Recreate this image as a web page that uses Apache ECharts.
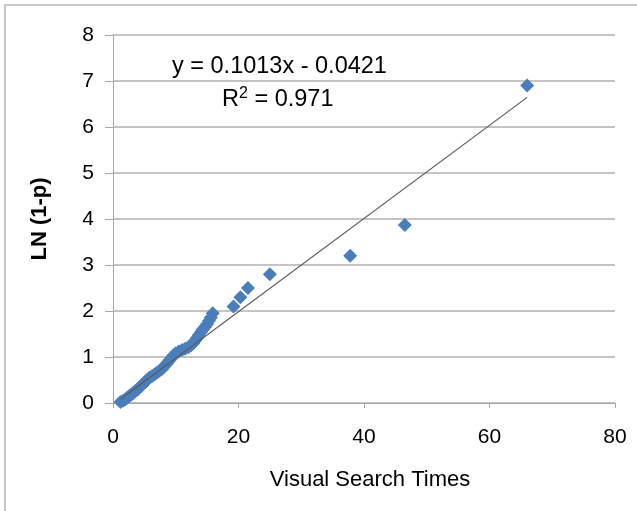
<!DOCTYPE html>
<html>
<head>
<meta charset="utf-8">
<script src="https://cdn.jsdelivr.net/npm/echarts@6/dist/echarts.min.js"></script>
<style>
  html, body { margin: 0; padding: 0; background: #fff; }
  #chart { width: 637px; height: 511px; }
</style>
</head>
<body>
<div id="chart"></div>
<script>
// visual search times (x) and LN(1-p) (y)
var searchTimes = [1.2, 1.6, 2.0, 2.3, 2.6, 2.9, 3.2, 3.5, 3.8, 4.0, 4.3, 4.6, 4.9, 5.2, 5.5, 5.8,
  6.2, 6.6, 7.0, 7.4, 7.8, 8.1, 8.4, 8.7, 9.0, 9.3, 9.6, 10.0, 10.5, 11.0, 11.5, 12.0, 12.4, 12.8,
  13.1, 13.4, 13.7, 14.0, 14.3, 14.7, 15.0, 15.3, 15.6, 15.9, 19.2, 20.3, 21.5, 25.0, 37.8, 46.5, 66.0];
var lnValues = [0.02, 0.05, 0.08, 0.12, 0.15, 0.18, 0.22, 0.25, 0.28, 0.31, 0.35, 0.39, 0.43, 0.47, 0.51, 0.55,
  0.58, 0.62, 0.66, 0.70, 0.74, 0.78, 0.83, 0.88, 0.93, 0.98, 1.03, 1.08, 1.12, 1.15, 1.18, 1.21, 1.25, 1.30,
  1.36, 1.42, 1.48, 1.54, 1.60, 1.66, 1.72, 1.79, 1.86, 1.95, 2.10, 2.30, 2.50, 2.80, 3.20, 3.87, 6.90];

// linear trendline as printed on the chart
var trendSlope = 0.1013;
var trendIntercept = -0.0421;
var trendRange = [1.2, 66];
var rSquared = 0.971;

var points = searchTimes.map(function (x, i) { return [x, lnValues[i]]; });
var trendPoints = trendRange.map(function (x) { return [x, trendSlope * x + trendIntercept]; });

var font = 'Liberation Sans, Arial, sans-serif';
var chart = echarts.init(document.getElementById('chart'));

chart.setOption({
  animation: false,
  backgroundColor: '#fff',
  textStyle: { fontFamily: font },
  grid: { left: 113, right: 22, top: 35, bottom: 108, containLabel: false },
  xAxis: {
    type: 'value', min: 0, max: 80, interval: 20,
    name: 'Visual Search Times', nameLocation: 'middle', nameGap: 66,
    nameTextStyle: { fontSize: 22, color: '#000', fontFamily: font, padding: [0, 0, 0, 12] },
    axisLine: { lineStyle: { color: '#a6a6a6', width: 1 } },
    axisTick: { show: true, length: 5, lineStyle: { color: '#a6a6a6' } },
    axisLabel: { fontSize: 21, color: '#000', margin: 24, fontFamily: font },
    splitLine: { show: false }
  },
  yAxis: {
    type: 'value', min: 0, max: 8, interval: 1,
    name: 'LN (1-p)', nameLocation: 'middle', nameGap: 62,
    nameTextStyle: { fontSize: 22, fontWeight: 'bold', color: '#000', fontFamily: font },
    axisLine: { show: true, lineStyle: { color: '#a6a6a6', width: 1 } },
    axisTick: { show: true, length: 8, lineStyle: { color: '#a6a6a6' } },
    axisLabel: { fontSize: 21, color: '#000', margin: 19, fontFamily: font },
    splitLine: { show: true, lineStyle: { color: '#c4c4c4', width: 2 } }
  },
  graphic: [
    {
      type: 'rect', silent: true, z: -1,
      shape: { x: 5, y: 5, width: 700, height: 600 },
      style: { fill: 'none', stroke: '#c8c8c8', lineWidth: 2 }
    },
    {
      type: 'text', left: 172, top: 55,
      style: { text: 'y = 0.1013x - 0.0421', fontSize: 23.5, fill: '#000', fontFamily: font }
    },
    {
      type: 'text', left: 222, top: 86,
      style: {
        text: '{b|R}{s|2}{b| = ' + rSquared + '}',
        fill: '#000', fontFamily: font,
        rich: {
          b: { fontSize: 23.5, fontFamily: font, verticalAlign: 'bottom', lineHeight: 26 },
          s: { fontSize: 16, fontFamily: font, verticalAlign: 'top', lineHeight: 26, padding: [0, 0, 9, 0] }
        }
      }
    }
  ],
  series: [
    {
      type: 'scatter',
      data: points,
      symbol: 'diamond',
      symbolSize: 14,
      itemStyle: { color: '#4a7ebb', opacity: 1 },
      z: 3
    },
    {
      type: 'line',
      data: trendPoints,
      symbol: 'none',
      lineStyle: { color: '#5a5a5a', width: 1.2 },
      z: 4
    }
  ]
});
</script>
</body>
</html>
